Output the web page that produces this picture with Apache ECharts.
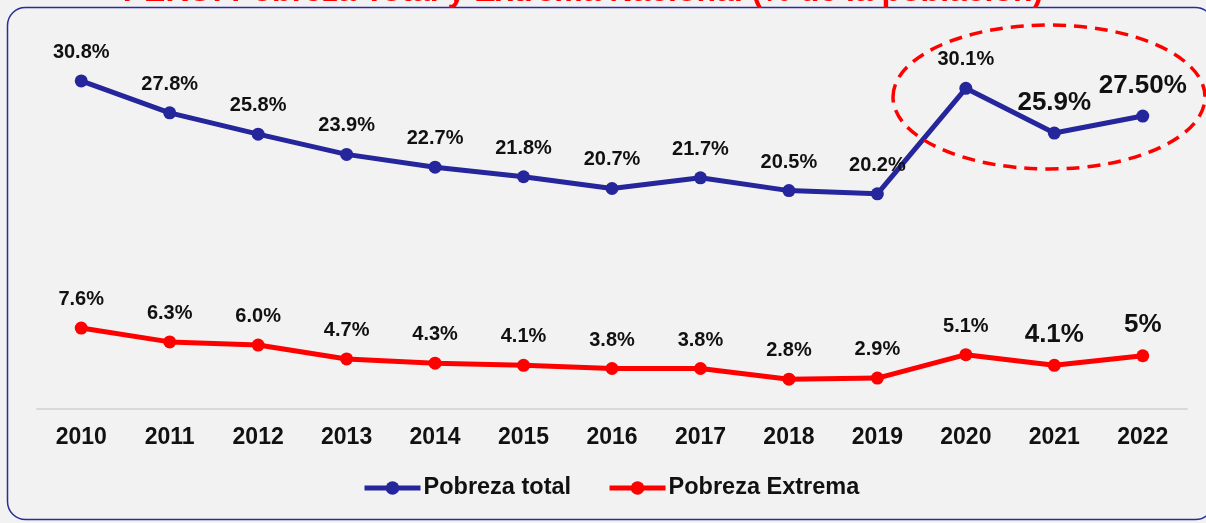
<!DOCTYPE html>
<head>
    <meta charset="utf-8">
    <title>ECharts</title>
    <script src="https://cdn.jsdelivr.net/npm/echarts@6/dist/echarts.min.js"></script>
    <style>
        html, body { margin: 0; padding: 0; background: #f2f2f2; }
    </style>
</head>
<body>
    <div id="container" style="width:1206px;height:523px"></div>
    <script type="text/javascript">

        // datos
        var years = ['2010','2011','2012','2013','2014','2015','2016','2017','2018','2019','2020','2021','2022'];
        var pobrezaTotal = [30.8, 27.8, 25.8, 23.9, 22.7, 21.8, 20.7, 21.7, 20.5, 20.2, 30.1, 25.9, 27.5];
        var pobrezaExtrema = [7.6, 6.3, 6.0, 4.7, 4.3, 4.1, 3.8, 3.8, 2.8, 2.9, 5.1, 4.1, 5];
        var labelsTotal = ['30.8%','27.8%','25.8%','23.9%','22.7%','21.8%','20.7%','21.7%','20.5%','20.2%','30.1%','25.9%','27.50%'];
        var labelsExtrema = ['7.6%','6.3%','6.0%','4.7%','4.3%','4.1%','3.8%','3.8%','2.8%','2.9%','5.1%','4.1%','5%'];
        var bigLabels = [11, 12]; // 2021 y 2022 con letra mas grande

        var dom = document.getElementById("container");
        var myChart = echarts.init(dom);

        function mkData(vals, labels) {
            return vals.map(function (v, i) {
                var big = bigLabels.indexOf(i) >= 0;
                return {
                    value: v,
                    label: {
                        formatter: labels[i],
                        fontSize: big ? 26 : 20,
                        distance: big ? 11 : 12
                    }
                };
            });
        }

        var option = {
            backgroundColor: '#f2f2f2',
            animation: false,
            textStyle: { fontFamily: 'Liberation Sans, Arial, sans-serif' },
            graphic: [
                {
                    type: 'rect',
                    shape: { x: 7.5, y: 7.5, width: 1206, height: 512, r: 18 },
                    style: { fill: 'none', stroke: '#2b2ba0', lineWidth: 1.5 },
                    z: 1
                },
                {
                    type: 'text',
                    x: 583,
                    y: 8,
                    style: {
                        text: 'PERÚ: Pobreza Total y Extrema Nacional (% de la población)',
                        fill: '#ff0000',
                        font: 'bold 32px "Liberation Sans", Arial, sans-serif',
                        align: 'center',
                        verticalAlign: 'bottom'
                    },
                    z: 5
                },
                {
                    type: 'ellipse',
                    shape: { cx: 1049, cy: 97, rx: 156, ry: 72 },
                    style: { fill: 'none', stroke: '#ff0000', lineWidth: 3.5, lineDash: [13, 8] },
                    z: 5
                }
            ],
            legend: {
                bottom: 18,
                left: 357,
                itemWidth: 56,
                itemHeight: 17,
                itemGap: 36,
                lineStyle: { width: 5 },
                textStyle: { fontSize: 23.5, fontWeight: 'bold', color: '#111', padding: [0, 0, 0, -2] },
                data: ['Pobreza total', 'Pobreza Extrema']
            },
            grid: { left: 37, right: 19, top: 34, bottom: 114 },
            xAxis: {
                type: 'category',
                data: years,
                axisLine: { lineStyle: { color: '#d9d9d9', width: 2 } },
                axisTick: { show: false },
                axisLabel: { fontSize: 23, fontWeight: 'bold', color: '#111', margin: 17 }
            },
            yAxis: {
                type: 'value',
                min: 0,
                max: 35.2,
                show: false,
                splitLine: { show: false }
            },
            series: [
                {
                    name: 'Pobreza total',
                    type: 'line',
                    data: mkData(pobrezaTotal, labelsTotal),
                    color: '#25259c',
                    symbol: 'circle',
                    symbolSize: 13,
                    lineStyle: { width: 5, color: '#25259c' },
                    label: { show: true, position: 'top', fontWeight: 'bold', color: '#111' }
                },
                {
                    name: 'Pobreza Extrema',
                    type: 'line',
                    data: mkData(pobrezaExtrema, labelsExtrema),
                    color: '#ff0000',
                    symbol: 'circle',
                    symbolSize: 13,
                    lineStyle: { width: 5, color: '#ff0000' },
                    label: { show: true, position: 'top', fontWeight: 'bold', color: '#111' }
                }
            ]
        };

        myChart.setOption(option);
    </script>
</body>
